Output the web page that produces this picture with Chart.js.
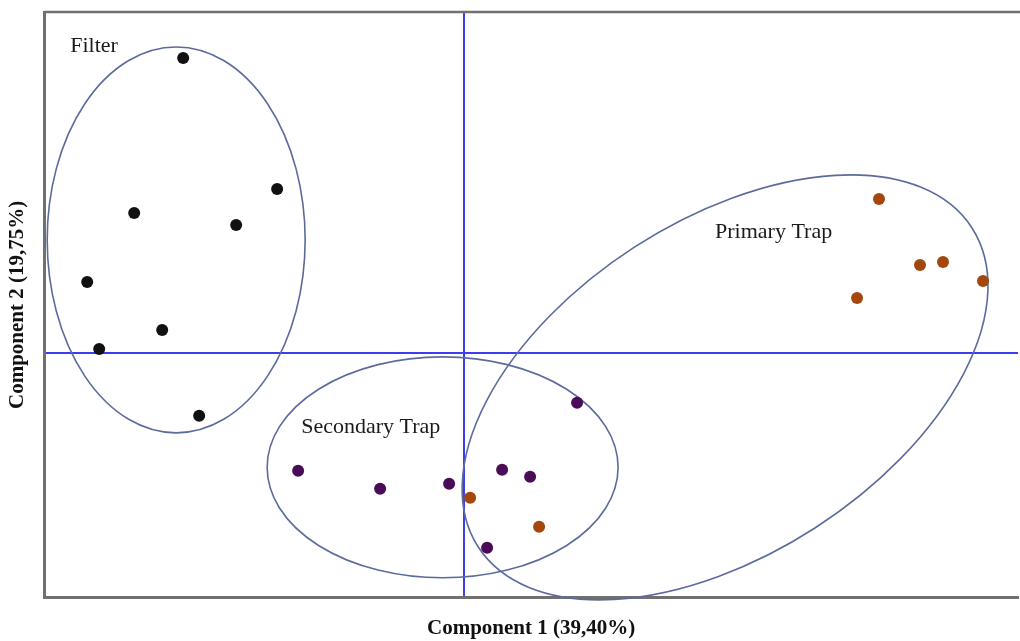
<!DOCTYPE html>
<html>
<head>
<meta charset="utf-8">
<script src="https://cdn.jsdelivr.net/npm/chart.js@4.4.1/dist/chart.umd.min.js"></script>
<style>
  html, body { margin: 0; padding: 0; background: #fff; }
  #wrap { width: 1020px; height: 641px; position: relative; }
</style>
</head>
<body>
<div id="wrap"><canvas id="pca"></canvas></div>
<script>
// PCA scores (component 1, component 2)
const filterX = [-2.81, -1.87, -3.30, -2.28, -3.77, -3.02, -3.65, -2.65];
const filterY = [2.95, 1.64, 1.40, 1.28, 0.71, 0.23, 0.04, -0.63];

const secondaryX = [1.13, -1.66, -0.84, -0.15, 0.38, 0.66, 0.23];
const secondaryY = [-0.50, -1.18, -1.36, -1.31, -1.17, -1.24, -1.95];

const primaryX = [4.15, 4.56, 4.79, 5.19, 3.93, 0.06, 0.75];
const primaryY = [1.54, 0.88, 0.91, 0.72, 0.55, -1.45, -1.74];

// group ellipses: centre, semi axes, rotation (deg) in score units
const groupNames = ['Filter', 'Secondary Trap', 'Primary Trap'];
const ellipseCx = [-2.88, -0.215, 2.61];
const ellipseCy = [1.13, -1.145, -0.345];
const ellipseRx = [1.29, 1.755, 2.94];
const ellipseRy = [1.93, 1.105, 1.67];
const ellipseRot = [0, 0, 32.9];
const labelX = [-3.94, -1.63, 2.51];
const labelY = [3.01, -0.80, 1.15];

const toPoints = (xs, ys) => xs.map((x, i) => ({ x: x, y: ys[i] }));

const AXIS_BLUE = '#3d3df0';
const FRAME = '#707070';

// ellipses, group labels and the top frame line
const groupPlugin = {
  id: 'groups',
  beforeDatasetsDraw(chart) {
    const ctx = chart.ctx;
    const xs = chart.scales.x, ys = chart.scales.y;
    const pxPerX = xs.getPixelForValue(1) - xs.getPixelForValue(0);
    const pxPerY = ys.getPixelForValue(0) - ys.getPixelForValue(1);
    ctx.save();
    ctx.strokeStyle = '#5b6b9c';
    ctx.lineWidth = 1.6;
    for (let i = 0; i < groupNames.length; i++) {
      ctx.beginPath();
      ctx.ellipse(
        xs.getPixelForValue(ellipseCx[i]),
        ys.getPixelForValue(ellipseCy[i]),
        ellipseRx[i] * pxPerX,
        ellipseRy[i] * pxPerY,
        -ellipseRot[i] * Math.PI / 180,
        0, Math.PI * 2
      );
      ctx.stroke();
    }
    ctx.fillStyle = '#1a1a1a';
    ctx.font = '22px "Liberation Serif", "DejaVu Serif", serif';
    ctx.textAlign = 'left';
    ctx.textBaseline = 'alphabetic';
    for (let i = 0; i < groupNames.length; i++) {
      ctx.fillText(groupNames[i], xs.getPixelForValue(labelX[i]), ys.getPixelForValue(labelY[i]));
    }
    const area = chart.chartArea;
    ctx.strokeStyle = FRAME;
    ctx.lineWidth = 2.5;
    ctx.beginPath();
    ctx.moveTo(area.left, area.top);
    ctx.lineTo(chart.width, area.top);
    ctx.stroke();
    ctx.restore();
  }
};

const zeroLine = (c) => (c.tick && c.tick.value === 0 ? AXIS_BLUE : 'rgba(0,0,0,0)');

new Chart(document.getElementById('pca'), {
  type: 'scatter',
  data: {
    datasets: [
      { label: 'Filter', data: toPoints(filterX, filterY), backgroundColor: '#111111' },
      { label: 'Secondary Trap', data: toPoints(secondaryX, secondaryY), backgroundColor: '#4a0b57' },
      { label: 'Primary Trap', data: toPoints(primaryX, primaryY), backgroundColor: '#a3470c' }
    ]
  },
  options: {
    responsive: true,
    maintainAspectRatio: false,
    animation: false,
    layout: { autoPadding: false, padding: { top: 12, right: 2, bottom: 0, left: 0 } },
    elements: { point: { radius: 6, borderWidth: 0, hoverRadius: 6 } },
    plugins: { legend: { display: false }, tooltip: { enabled: false } },
    scales: {
      x: {
        type: 'linear',
        min: -4.2,
        max: 5.54,
        ticks: { display: false, stepSize: 1 },
        grid: { color: zeroLine, lineWidth: 2, drawTicks: false },
        border: { display: true, color: FRAME, width: 3 },
        title: {
          display: true,
          text: 'Component 1 (39,40%)',
          color: '#111',
          font: { family: '"Liberation Serif", serif', size: 21, weight: 'bold' },
          padding: { top: 18, bottom: 0 }
        }
      },
      y: {
        type: 'linear',
        min: -2.45,
        max: 3.41,
        ticks: { display: false, stepSize: 1 },
        grid: { color: zeroLine, lineWidth: 2, drawTicks: false },
        border: { display: true, color: FRAME, width: 3 },
        title: {
          display: true,
          text: 'Component 2 (19,75%)',
          color: '#111',
          font: { family: '"Liberation Serif", serif', size: 21, weight: 'bold' },
          padding: { top: 5, bottom: 14 }
        }
      }
    }
  },
  plugins: [groupPlugin]
});
</script>
</body>
</html>
